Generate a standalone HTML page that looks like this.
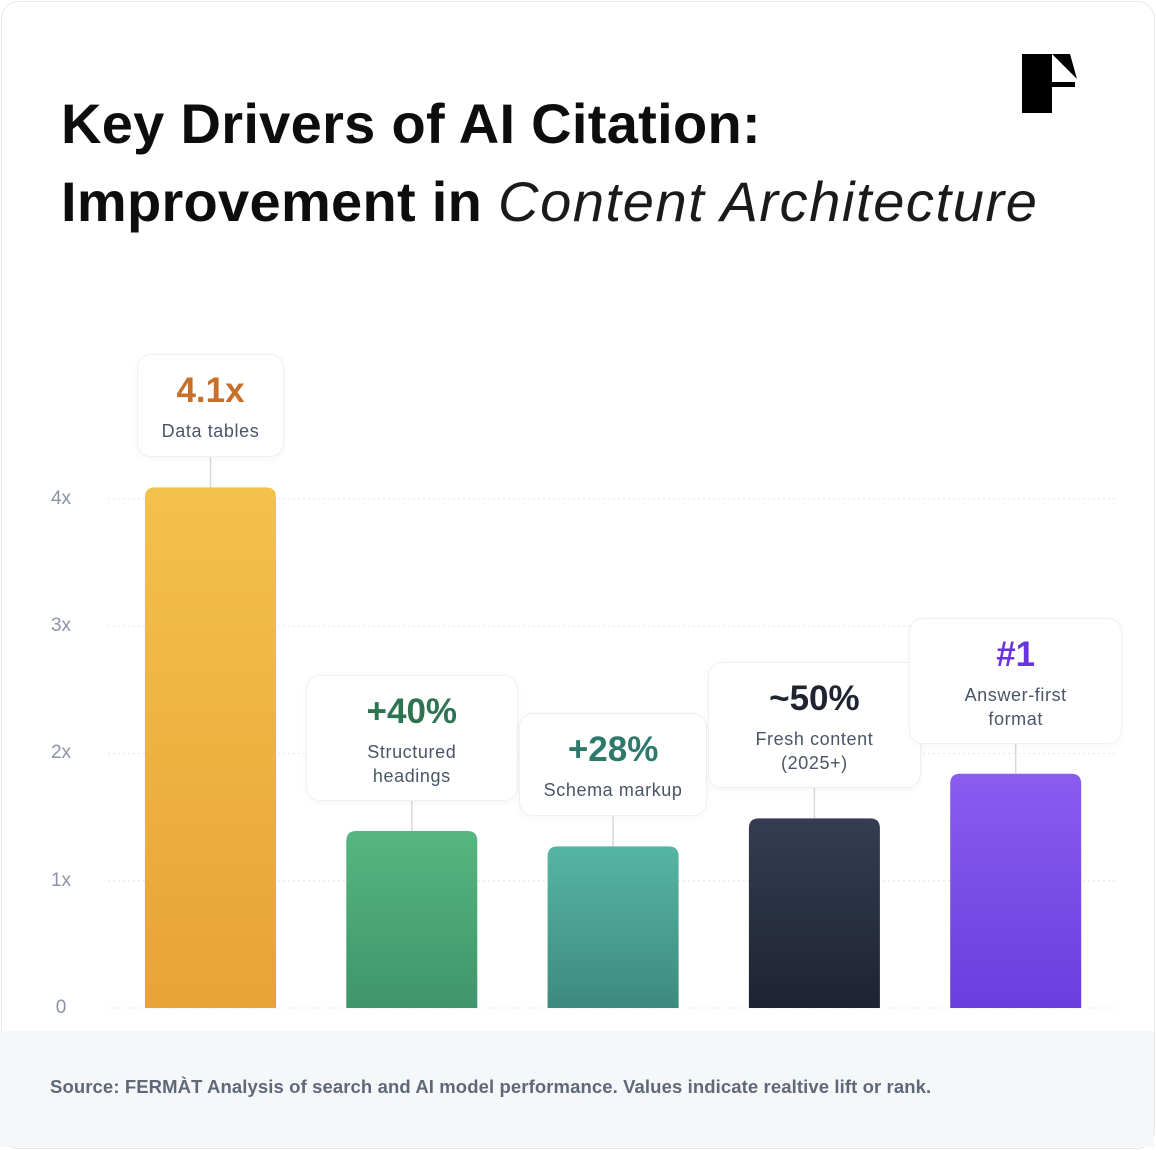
<!DOCTYPE html>
<html><head><meta charset="utf-8">
<style>
body{margin:0;width:1156px;height:1150px;background:#fff;font-family:"Liberation Sans",sans-serif;overflow:hidden}
#card{position:absolute;left:1px;top:1px;width:1152px;height:1146px;border:1px solid #e6e8ec;border-radius:18px;background:#fff;overflow:hidden}
#title{position:absolute;left:59px;top:83px;font-size:56px;line-height:78px;font-weight:bold;color:#0d0d0d;letter-spacing:0.3px}
#title i{font-weight:normal;font-style:italic;color:#1a1a1a;letter-spacing:1.6px}
#footer{position:absolute;left:0;top:1031px;width:1154px;height:116px;background:#f6f7f9}
#source{position:absolute;left:50px;top:1076px;font-size:18.5px;font-weight:bold;color:#5f6879;letter-spacing:0.1px}
.box{position:absolute;background:#fff;border:1px solid #eef0f3;border-radius:14px;box-shadow:0 2px 8px rgba(0,0,0,0.04);text-align:center;box-sizing:border-box;padding:14px 0 0}
.val{font-size:35px;font-weight:bold;line-height:44px}
.lab{font-size:18px;color:#4a5568;line-height:24px;margin-top:6px;letter-spacing:0.6px}
.tick{position:absolute;left:44px;width:34px;text-align:center;font-size:19px;color:#8a94a6}
</style></head><body>
<div id="card">
<div id="title">Key Drivers of AI Citation:<br>Improvement in <i>Content Architecture</i></div>
<svg style="position:absolute;left:1020px;top:52px" width="56" height="60"><rect x="0" y="0" width="30" height="59" fill="#000"/><polygon points="30,0 48,0 55,25 30,0" fill="#000"/><rect x="30" y="28" width="23" height="5" fill="#000"/></svg>
<svg id="chart" width="1156" height="1150" style="position:absolute;left:0;top:0">
<defs>
<linearGradient id="g0" x1="0" y1="0" x2="0" y2="1"><stop offset="0" stop-color="#f3c24a"/><stop offset="1" stop-color="#e9a238"/></linearGradient>
<linearGradient id="g1" x1="0" y1="0" x2="0" y2="1"><stop offset="0" stop-color="#56b77f"/><stop offset="1" stop-color="#3e956a"/></linearGradient>
<linearGradient id="g2" x1="0" y1="0" x2="0" y2="1"><stop offset="0" stop-color="#56b5a4"/><stop offset="1" stop-color="#3d8a7e"/></linearGradient>
<linearGradient id="g3" x1="0" y1="0" x2="0" y2="1"><stop offset="0" stop-color="#343d52"/><stop offset="1" stop-color="#1e2333"/></linearGradient>
<linearGradient id="g4" x1="0" y1="0" x2="0" y2="1"><stop offset="0" stop-color="#8a5cef"/><stop offset="1" stop-color="#6a3de0"/></linearGradient>
</defs>
</svg>
</div>
<div id="footer"></div>
<div id="source">Source: FERMÀT Analysis of search and AI model performance. Values indicate realtive lift or rank.</div>
<script>
const categories=["Data tables","Structured\nheadings","Schema markup","Fresh content\n(2025+)","Answer-first\nformat"];
const values=[4.09,1.39,1.27,1.49,1.84];
const valueLabels=["4.1x","+40%","+28%","~50%","#1"];
const ticks=[0,1,2,3,4];
const tickLabels=["0","1x","2x","3x","4x"];
const colors=["#c8702a","#2e7352","#2e7a6a","#1f2433","#6a35e0"];
const boxWidths=[147,212,188,213,213];
const y0=1006,unit=127.3,x0=143,step=201.3,bw=131;
const y=v=>y0-v*unit, x=i=>x0+i*step;
const svg=document.getElementById('chart'),NS="http://www.w3.org/2000/svg";
ticks.forEach((t,i)=>{
 const l=document.createElementNS(NS,'line');
 
 
 l.setAttribute('x1',106);l.setAttribute('x2',1116);l.setAttribute('y1',y(t));l.setAttribute('y2',y(t));
 l.setAttribute('stroke','#e3e6ea');l.setAttribute('stroke-dasharray','2 3');svg.appendChild(l);
 const d=document.createElement('div');d.className='tick';
 
 
 d.style.top=(y(t)-9)+'px';d.textContent=tickLabels[i];document.body.appendChild(d);
});
values.forEach((v,i)=>{
 const r=document.createElementNS(NS,'path');
 
 
 const X=x(i),T=y(v),R=10;
 r.setAttribute('d',`M${X},${y0}V${T+R}Q${X},${T} ${X+R},${T}H${X+bw-R}Q${X+bw},${T} ${X+bw},${T+R}V${y0}Z`);
 r.setAttribute('fill',`url(#g${i})`);svg.appendChild(r);
 const c=document.createElementNS(NS,'line');
 
 
 c.setAttribute('x1',X+bw/2);c.setAttribute('x2',X+bw/2);c.setAttribute('y1',T-30);c.setAttribute('y2',T);
 c.setAttribute('stroke','#d5d9de');c.setAttribute('stroke-width',1.5);svg.appendChild(c);
 const b=document.createElement('div');b.className='box';
 
 
 const lines=categories[i].split('\n');
 b.innerHTML=`<div class="val" style="color:${colors[i]}">${valueLabels[i]}</div><div class="lab">${lines.join('<br>')}</div>`;
 const h=lines.length>1?126:103;
 b.style.height=h+'px';b.style.top=(T-30-h+2)+'px';
 b.style.width=boxWidths[i]+'px';
 b.style.left=(X+2+bw/2-boxWidths[i]/2)+'px';
 document.body.appendChild(b);
});
</script>
</body></html>
